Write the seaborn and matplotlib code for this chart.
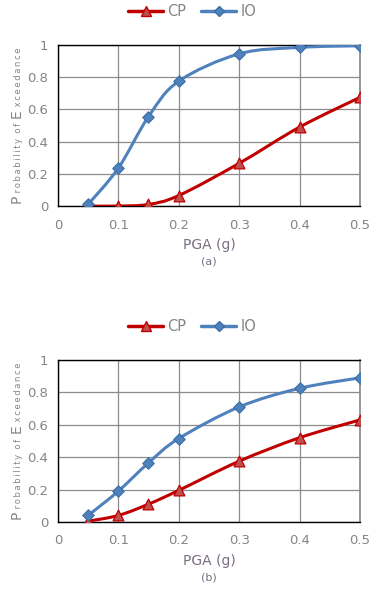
import matplotlib
matplotlib.use("Agg")

import matplotlib.pyplot as plt
import numpy as np
import pandas as pd
import seaborn as sns
from matplotlib.lines import Line2D
from matplotlib.path import Path
from matplotlib.patches import PathPatch

pga = [0.05, 0.1, 0.15, 0.2, 0.3, 0.4, 0.5]
cp_a = [0.0, 0.0, 0.01, 0.065, 0.265, 0.49, 0.675]
io_a = [0.01, 0.235, 0.555, 0.775, 0.945, 0.985, 0.995]
cp_b = [0.005, 0.04, 0.11, 0.195, 0.375, 0.52, 0.63]
io_b = [0.04, 0.19, 0.365, 0.515, 0.71, 0.825, 0.89]
x_ticks = [0, 0.1, 0.2, 0.3, 0.4, 0.5]
y_ticks = [0, 0.2, 0.4, 0.6, 0.8, 1]

RED, RED_FACE = "#c00000", "#c0504d"
BLUE, BLUE_EDGE = "#4f81bd", "#3a6ea5"
TXT = "#858585"
LBL = "#7a6e82"

sns.set_theme(style="white")
plt.rcParams["font.family"] = ["DejaVu Sans"]


def smooth_path(x, y):
    # Excel-like smoothed line (Catmull-Rom as cubic beziers)
    p = np.column_stack([x, y])
    verts, codes = [p[0]], [Path.MOVETO]
    for i in range(len(p) - 1):
        p0 = p[i - 1] if i > 0 else p[i]
        p3 = p[i + 2] if i + 2 < len(p) else p[i + 1]
        c1 = p[i] + (p[i + 1] - p0) / 6
        c2 = p[i + 1] - (p3 - p[i]) / 6
        verts += [c1, c2, p[i + 1]]
        codes += [Path.CURVE4] * 3
    return Path(verts, codes)


def spaced(s):
    return "\u2009".join(s)


def ylabel_pieces(fig, ax, x_fig):
    # y label with big capitals and small spaced lowercase, like the original
    pieces = [("P", 10), (" " + spaced("robability") + "  " + spaced("of") + "  ", 6),
              ("E", 10), (" " + spaced("xceedance"), 6)]
    r = fig.canvas.get_renderer()
    widths = []
    for s, fs in pieces:
        t = fig.text(0, 0, s, fontsize=fs)
        widths.append(t.get_window_extent(r).width / fig.bbox.height)
        t.remove()
    pos = ax.get_position()
    y = pos.y0 + pos.height / 2 - sum(widths) / 2
    for (s, fs), w in zip(pieces, widths):
        fig.text(x_fig, y, s, rotation=90, fontsize=fs, color=TXT,
                 ha="left", va="baseline", rotation_mode="anchor")
        y += w


def panel(fig, ax, cp, io, tag):
    df = pd.DataFrame({"PGA": pga * 2, "P": cp + io,
                       "Level": ["CP"] * len(pga) + ["IO"] * len(pga)})
    ax.add_patch(PathPatch(smooth_path(pga, cp), fill=False, color=RED, lw=2.2, zorder=3))
    ax.add_patch(PathPatch(smooth_path(pga, io), fill=False, color=BLUE, lw=2.2, zorder=3))
    sns.scatterplot(data=df[df.Level == "CP"], x="PGA", y="P", marker="^", s=60,
                    color=RED_FACE, edgecolor=RED, linewidth=0.9, zorder=4, ax=ax)
    sns.scatterplot(data=df[df.Level == "IO"], x="PGA", y="P", marker="D", s=34,
                    color=BLUE, edgecolor=BLUE_EDGE, linewidth=0.8, zorder=4, ax=ax)
    ax.set_xlim(0, 0.5)
    ax.set_ylim(0, 1)
    ax.set_xticks(x_ticks)
    ax.set_xticklabels([f"{v:g}" for v in x_ticks])
    ax.set_yticks(y_ticks)
    ax.set_yticklabels([f"{v:g}" for v in y_ticks])
    ax.grid(True, color="#8c8c8c", lw=0.9)
    ax.tick_params(colors=TXT, labelsize=9.5, length=0)
    ax.tick_params(axis="x", pad=9)
    ax.tick_params(axis="y", pad=7)
    for s in ["left", "bottom", "top"]:
        ax.spines[s].set_color("black")
        ax.spines[s].set_linewidth(1.0)
    ax.spines["right"].set_color("#8c8c8c")
    ax.set_xlabel("PGA (g)", color=LBL, fontsize=10, labelpad=5)
    ax.set_ylabel("")
    ax.text(0.5, -0.315, tag, transform=ax.transAxes, ha="center", va="top",
            color=LBL, fontsize=8)
    handles = [
        Line2D([], [], color=RED, lw=2.5, marker="^", markersize=7,
               markerfacecolor=RED_FACE, markeredgecolor=RED),
        Line2D([], [], color=BLUE, lw=2.5, marker="D", markersize=5,
               markerfacecolor=BLUE, markeredgecolor=BLUE_EDGE),
    ]
    ax.legend(handles, ["CP", "IO"], loc="lower center", bbox_to_anchor=(0.445, 1.08),
              ncol=2, frameon=False, fontsize=10.5, labelcolor=TXT,
              handlelength=2.4, handletextpad=0.3, columnspacing=1.0)


fig = plt.figure(figsize=(3.83, 5.91), dpi=100)
fig.patch.set_facecolor("white")
ax1 = fig.add_axes([0.151, 0.6514, 0.789, 0.2725])
ax2 = fig.add_axes([0.151, 0.1168, 0.789, 0.2741])
panel(fig, ax1, cp_a, io_a, "(a)")
panel(fig, ax2, cp_b, io_b, "(b)")
fig.canvas.draw()
ylabel_pieces(fig, ax1, 0.055)
ylabel_pieces(fig, ax2, 0.055)

fig.savefig("out.png", dpi=100)
